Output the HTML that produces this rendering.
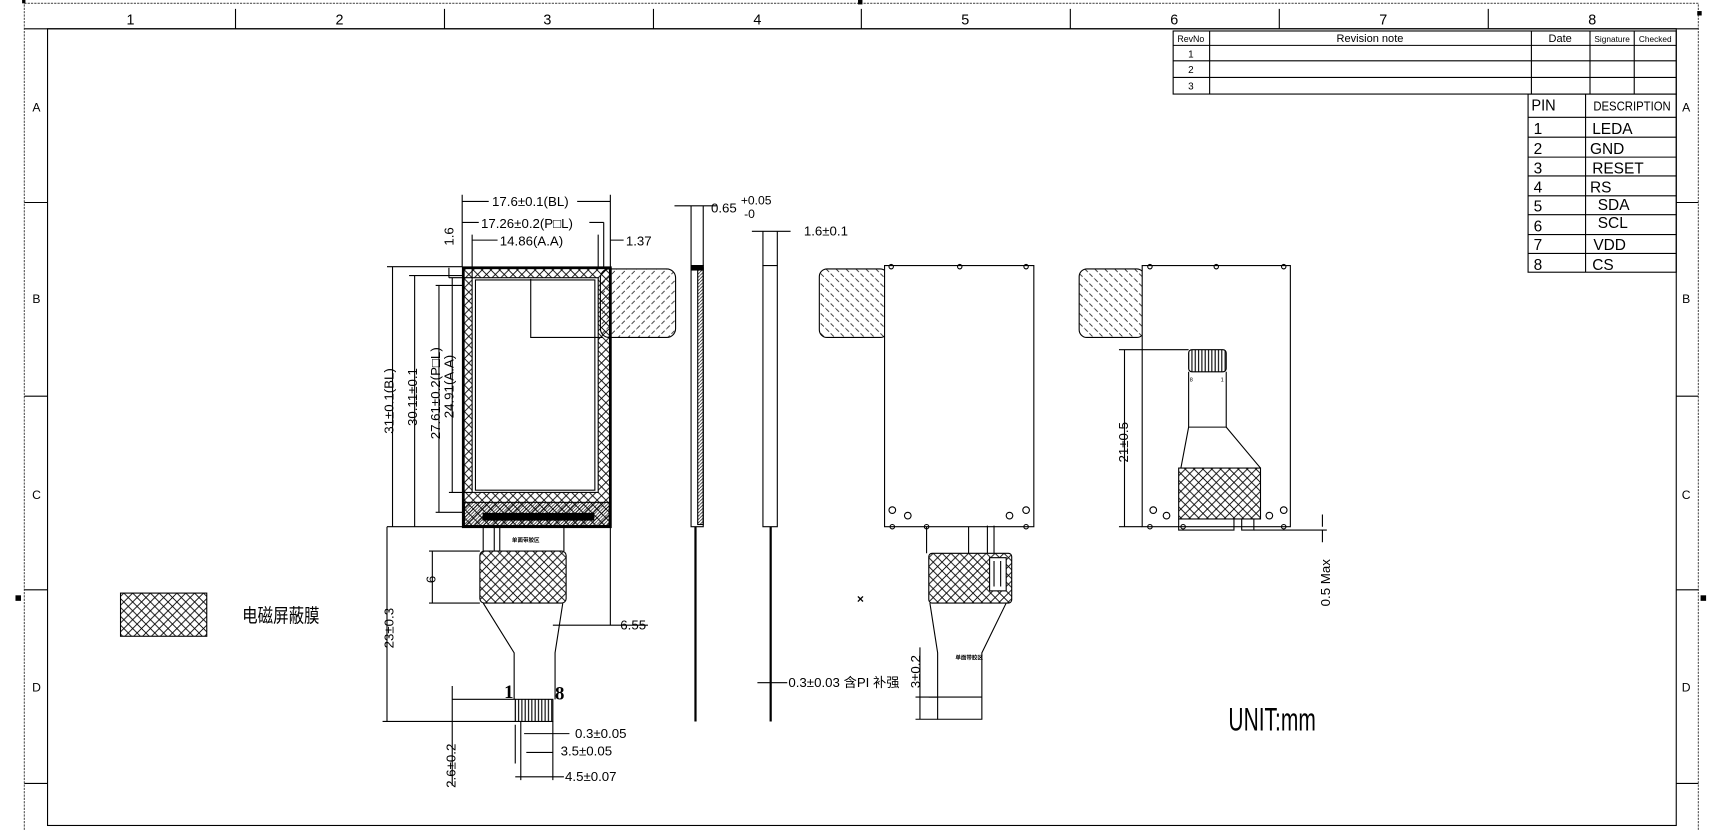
<!DOCTYPE html>
<html><head><meta charset="utf-8"><style>
html,body{margin:0;padding:0;background:#fff;}
svg{display:block;}
text{font-family:"Liberation Sans","DejaVu Sans",sans-serif;fill:#000;}
.s{font-family:"Liberation Serif",serif;}
.c{font-family:"Liberation Sans","Noto Sans CJK SC",sans-serif;}
</style></head><body>
<svg width="1726" height="831" viewBox="0 0 1561 751" preserveAspectRatio="none" xmlns="http://www.w3.org/2000/svg">
<defs>
<pattern id="xh" width="8" height="8" patternUnits="userSpaceOnUse">
<path d="M0,0L8,8M8,0L0,8" stroke="#000" stroke-width="0.8"/>
</pattern>
<pattern id="dh" width="9" height="9" patternUnits="userSpaceOnUse">
<path d="M0,9L9,0" stroke="#000" stroke-width="0.7" stroke-dasharray="4,2"/>
</pattern>
<pattern id="dh2" width="9" height="9" patternUnits="userSpaceOnUse">
<path d="M0,0L9,9" stroke="#000" stroke-width="0.7" stroke-dasharray="4,2"/>
</pattern>
<pattern id="fh" width="3" height="3" patternUnits="userSpaceOnUse">
<path d="M0,3L3,0" stroke="#000" stroke-width="0.6"/>
</pattern>
<pattern id="vs" width="3" height="10" patternUnits="userSpaceOnUse">
<path d="M1,0V10" stroke="#000" stroke-width="1"/>
</pattern>
</defs>
<g fill="none" stroke="#000" stroke-width="1">
<rect x="22" y="3" width="1514" height="760" stroke-dasharray="2,1" stroke="#555"/>
<rect x="43" y="26" width="1473" height="720"/>
<line x1="22" y1="26" x2="1536" y2="26"/>
<path d="M213,8V26M402,8V26M591,8V26M779,8V26M968,8V26M1157,8V26M1346,8V26"/>
<path d="M22,183H43M22,358H43M22,533H43M22,708H43M1516,183H1536M1516,358H1536M1516,533H1536M1516,708H1536"/>
<rect x="1061" y="28" width="455" height="57"/>
<path d="M1061,41H1516M1061,55H1516M1061,70H1516M1094,28V85M1385,28V85M1438,28V85M1478,28V85"/>
<rect x="1382" y="85" width="134" height="161"/>
<path d="M1434,85V246M1382,106H1516M1382,124H1516M1382,142H1516M1382,159H1516M1382,177H1516M1382,194H1516M1382,212H1516M1382,229H1516"/>
</g>
<rect x="1535" y="10" width="4" height="4"/><rect x="776" y="0" width="4" height="4"/><rect x="14" y="538" width="5" height="5"/><rect x="1538" y="538" width="5" height="5"/><rect x="20" y="0" width="3" height="3"/>
<g font-size="13" class="s" text-anchor="middle">
<text x="118" y="22">1</text><text x="307" y="22">2</text><text x="495" y="22">3</text><text x="685" y="22">4</text><text x="873" y="22">5</text><text x="1062" y="22">6</text><text x="1251" y="22">7</text><text x="1440" y="22">8</text>
<text x="33" y="101" font-size="11">A</text><text x="33" y="274" font-size="11">B</text><text x="33" y="451" font-size="11">C</text><text x="33" y="625" font-size="11">D</text>
<text x="1525" y="101" font-size="11">A</text><text x="1525" y="274" font-size="11">B</text><text x="1525" y="451" font-size="11">C</text><text x="1525" y="625" font-size="11">D</text>
<text x="1077" y="52" font-size="9">1</text><text x="1077" y="66" font-size="9">2</text><text x="1077" y="81" font-size="9">3</text>
</g>
<g font-size="8" class="c" text-anchor="middle">
<text x="1077" y="38">RevNo</text><text x="1239" y="38" font-size="10">Revision note</text><text x="1411" y="38" font-size="10">Date</text><text x="1458" y="38" font-size="7.5">Signature</text><text x="1497" y="38" font-size="7.5">Checked</text>
</g>
<g font-size="14" class="c">
<text x="1385" y="100" textLength="22" lengthAdjust="spacingAndGlyphs">PIN</text>
<text x="1441" y="100" font-size="12" textLength="70" lengthAdjust="spacingAndGlyphs">DESCRIPTION</text>
<text x="1387" y="121">1</text><text x="1440" y="121">LEDA</text>
<text x="1387" y="139">2</text><text x="1438" y="139">GND</text>
<text x="1387" y="157">3</text><text x="1440" y="157">RESET</text>
<text x="1387" y="174">4</text><text x="1438" y="174">RS</text>
<text x="1387" y="191">5</text><text x="1445" y="190">SDA</text>
<text x="1387" y="209">6</text><text x="1445" y="206">SCL</text>
<text x="1387" y="226">7</text><text x="1441" y="226">VDD</text>
<text x="1387" y="244">8</text><text x="1440" y="244">CS</text>
</g>

<g fill="none" stroke="#000" stroke-width="1">
<rect x="543" y="243" width="68" height="62" rx="8" fill="url(#dh)"/>
<rect x="419" y="242" width="133" height="234" fill="url(#xh)" stroke-width="2.5"/>
<rect x="427" y="251" width="114" height="194" fill="#fff"/>
<rect x="430" y="253" width="108" height="190" fill="#fff"/>
<path d="M480,252V305H545"/>
<rect x="420" y="454" width="131" height="21" fill="url(#fh)"/>
<rect x="437" y="464" width="100" height="6" fill="#000"/>
<path d="M437,476V498M447,476V498M452,476V498M510,476V498"/>
<rect x="434" y="498" width="78" height="47" rx="4" fill="url(#xh)"/>
<path d="M437,545L465,590V632M509,545L502,590V632"/>
<rect x="466" y="632" width="34" height="20" fill="url(#vs)"/>
<path d="M418,176V241M552,176V241M418,182H552M418,201H546M427,217H479M546,201V241M541,212V241M427,212V251M552,217H564"/>
<path d="M350,241H418M350,476H418M355,241V476M370,249H418M375,249V476M370,476H418M394,258H418M397,258V463M394,463H418M409,251V445M406,251H427M406,445H427M406,242V251"/>
<path d="M350,476V652M346,652H466M388,498H434M388,545H434M391,498V545M500,565H586M552,476V565M409,620V710M409,632H466M471,652V705M500,652V705M466,655V690M474,663H515M476,680H500M466,702H510"/>
</g>
<g font-size="12" class="c">
<rect x="442" y="175" width="80" height="14" fill="#fff"/>
<text x="445" y="186">17.6±0.1(BL)</text>
<rect x="433" y="195" width="100" height="14" fill="#fff"/>
<text x="435" y="206">17.26±0.2(P□L)</text>
<rect x="450" y="211" width="68" height="14" fill="#fff"/>
<text x="452" y="222">14.86(A.A)</text>
<text x="566" y="222">1.37</text>
<text x="561" y="569">6.55</text>
<text x="520" y="667">0.3±0.05</text>
<text x="507" y="683">3.5±0.05</text>
<text x="511" y="706">4.5±0.07</text>
<text transform="translate(356,392) rotate(-90)">31±0.1(BL)</text>
<text transform="translate(377,385) rotate(-90)">30.11±0.1</text>
<text transform="translate(398,397) rotate(-90)">27.61±0.2(P□L)</text>
<text transform="translate(410,378) rotate(-90)">24.91(A.A)</text>
<text transform="translate(410,222) rotate(-90)">1.6</text>
<text transform="translate(356,586) rotate(-90)">23±0.3</text>
<text transform="translate(394,527) rotate(-90)">6</text>
<text transform="translate(412,712) rotate(-90)">2.6±0.2</text>
<text x="456" y="631" class="s" font-size="17" font-weight="bold">1</text>
<text x="502" y="632" class="s" font-size="17" font-weight="bold">8</text>
</g>
<text x="463" y="490" font-size="5" font-weight="bold" class="c">单面带胶区</text>

<g fill="none" stroke="#000" stroke-width="1">
<path d="M610,186H648M625,186V240M636,186V240"/>
<rect x="625" y="240" width="11" height="236"/>
<rect x="631" y="242" width="5" height="232" fill="url(#fh)"/>
<rect x="625" y="240" width="11" height="4" fill="#000"/>
<path d="M629,476V652" stroke-width="2"/>
<path d="M680,209H715M690,209V240M703,209V240"/>
<rect x="690" y="240" width="13" height="236"/>
<path d="M697,476V652" stroke-width="2"/>
<path d="M685,617H712"/>
</g>
<g font-size="12" class="c">
<text x="643" y="192">0.65</text><text x="670" y="185" font-size="11">+0.05</text><text x="673" y="197" font-size="11">-0</text>
<text x="727" y="213">1.6±0.1</text>
<text x="713" y="621">0.3±0.03 含PI 补强</text>
</g>

<g fill="none" stroke="#000" stroke-width="1">
<rect x="741" y="243" width="62" height="62" rx="7" fill="url(#dh2)"/>
<rect x="800" y="240" width="135" height="236" fill="#fff"/>
<circle cx="807" cy="461" r="3"/><circle cx="821" cy="466" r="3"/><circle cx="913" cy="466" r="3"/><circle cx="928" cy="461" r="3"/>
<circle cx="806" cy="241" r="2"/><circle cx="868" cy="241" r="2"/><circle cx="928" cy="241" r="2"/>
<circle cx="807" cy="476" r="2"/><circle cx="838" cy="476" r="2"/><circle cx="928" cy="476" r="2"/>
<path d="M838,476V500M876,476V500M893,475V500M899,475V500"/>
<rect x="840" y="500" width="75" height="45" rx="3" fill="url(#xh)"/>
<rect x="895" y="504" width="15" height="30" fill="#fff"/>
<path d="M899,507V530M905,507V530"/>
<path d="M841,545L848,590V650H888V590L910,545M840,630H888M848,630V650"/>
<path d="M832,585V650M828,650H848M828,630H848"/>
</g>
<text x="864" y="596" font-size="5" font-weight="bold" class="c">单面带胶区</text>
<text transform="translate(832,622) rotate(-90)" font-size="12" class="c">3±0.2</text>
<text x="775" y="545" font-size="11" font-weight="bold" class="c">×</text>

<g fill="none" stroke="#000" stroke-width="1">
<rect x="976" y="243" width="59" height="62" rx="7" fill="url(#dh2)"/>
<rect x="1033" y="240" width="134" height="236" fill="#fff"/>
<circle cx="1043" cy="461" r="3"/><circle cx="1055" cy="466" r="3"/><circle cx="1148" cy="466" r="3"/><circle cx="1161" cy="461" r="3"/>
<circle cx="1040" cy="241" r="2"/><circle cx="1100" cy="241" r="2"/><circle cx="1161" cy="241" r="2"/>
<circle cx="1040" cy="476" r="2"/><circle cx="1070" cy="476" r="2"/><circle cx="1161" cy="476" r="2"/>
<rect x="1075" y="316" width="34" height="20" rx="3" fill="url(#vs)"/>
<path d="M1075,336V386H1109V336"/>
<path d="M1075,386L1068,423M1109,386L1140,423"/>
<rect x="1066" y="423" width="74" height="46" fill="url(#xh)"/>
<path d="M1066,469V479H1116V469M1123,469V479H1134V469"/>
<path d="M1012,316H1075M1017,316V476M1012,476H1033M1196,465V476M1134,479H1200M1196,479V490"/>
</g>
<g font-size="12" class="c">
<text transform="translate(1020,418) rotate(-90)">21±0.5</text>
<text transform="translate(1203,548) rotate(-90)">0.5  Max</text>
<text x="1076" y="345" font-size="5">8</text><text x="1104" y="345" font-size="5">1</text>
</g>

<rect x="109" y="536" width="78" height="39" fill="url(#xh)" stroke="#000"/>
<text x="219" y="562" font-size="17" class="c" textLength="70" lengthAdjust="spacingAndGlyphs">电磁屏蔽膜</text>
<text x="1111" y="660" font-size="29" class="c" textLength="79" lengthAdjust="spacingAndGlyphs">UNIT:mm</text>
</svg>
</body></html>
